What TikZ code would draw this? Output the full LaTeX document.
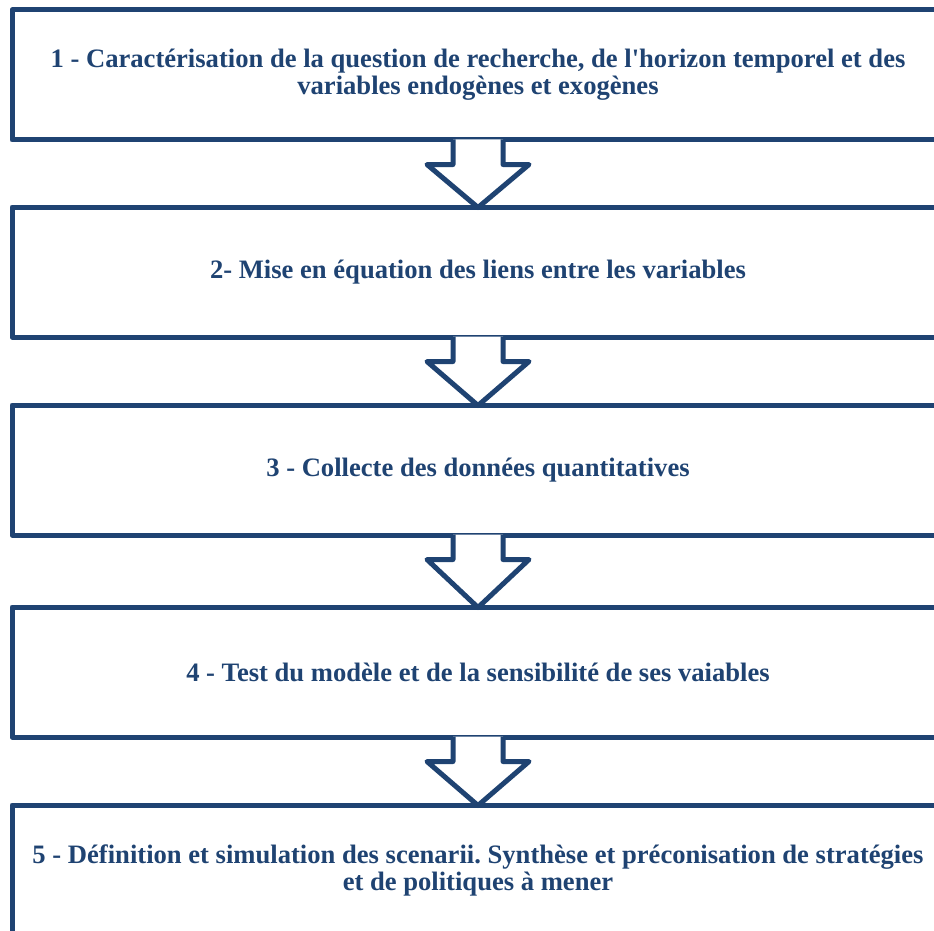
\documentclass[tikz,border=0pt]{standalone}
\usepackage{fontspec}
\setmainfont{Liberation Serif}[Ligatures=TeXOff]
\usetikzlibrary{calc}
\definecolor{navy}{HTML}{1F4372}
\tikzset{
  stagebox/.style={draw=navy, line width=5pt, line join=round, minimum width=932pt, minimum height=130pt,
    inner sep=0pt, align=center, text=navy, font=\fontsize{26.6}{27}\selectfont\bfseries},
  blockarrow/.style={draw=navy, fill=white, line width=5pt, line join=round}
}
\newcommand{\flowarrow}[2]{%
  \draw[blockarrow] ($(#1.south)+(-25,-3)$) -- ($(#1.south)+(-25,22)$) -- ($(#1.south)+(-51,22)$)
    -- ($(#2.north)+(0,3)$) -- ($(#1.south)+(51,22)$) -- ($(#1.south)+(25,22)$) -- ($(#1.south)+(25,-3)$);}
\frenchspacing
\begin{document}
\begin{tikzpicture}[x=1pt,y=-1pt]
\useasboundingbox (0,0) rectangle (934,931);
\clip (0,0) rectangle (934,931);
\fill[white] (0,0) rectangle (934,931);
\node[stagebox] (b1) at (478,75) {1 - Caractérisation de la question de recherche, de l'horizon temporel et des\\variables endogènes et exogènes};
\node[stagebox] (b2) at (478,272) {2- Mise en équation des liens entre les variables};
\node[stagebox] (b3) at (478,470) {3 - Collecte des données quantitatives};
\node[stagebox] (b4) at (478,672) {4 - Test du modèle et de la sensibilité de ses vaiables};
\node[stagebox] (b5) at (478,870) {5 - Définition et simulation des scenarii. Synthèse et préconisation de stratégies\\et de politiques à mener};
\flowarrow{b1}{b2}
\flowarrow{b2}{b3}
\flowarrow{b3}{b4}
\flowarrow{b4}{b5}
\end{tikzpicture}
\end{document}
